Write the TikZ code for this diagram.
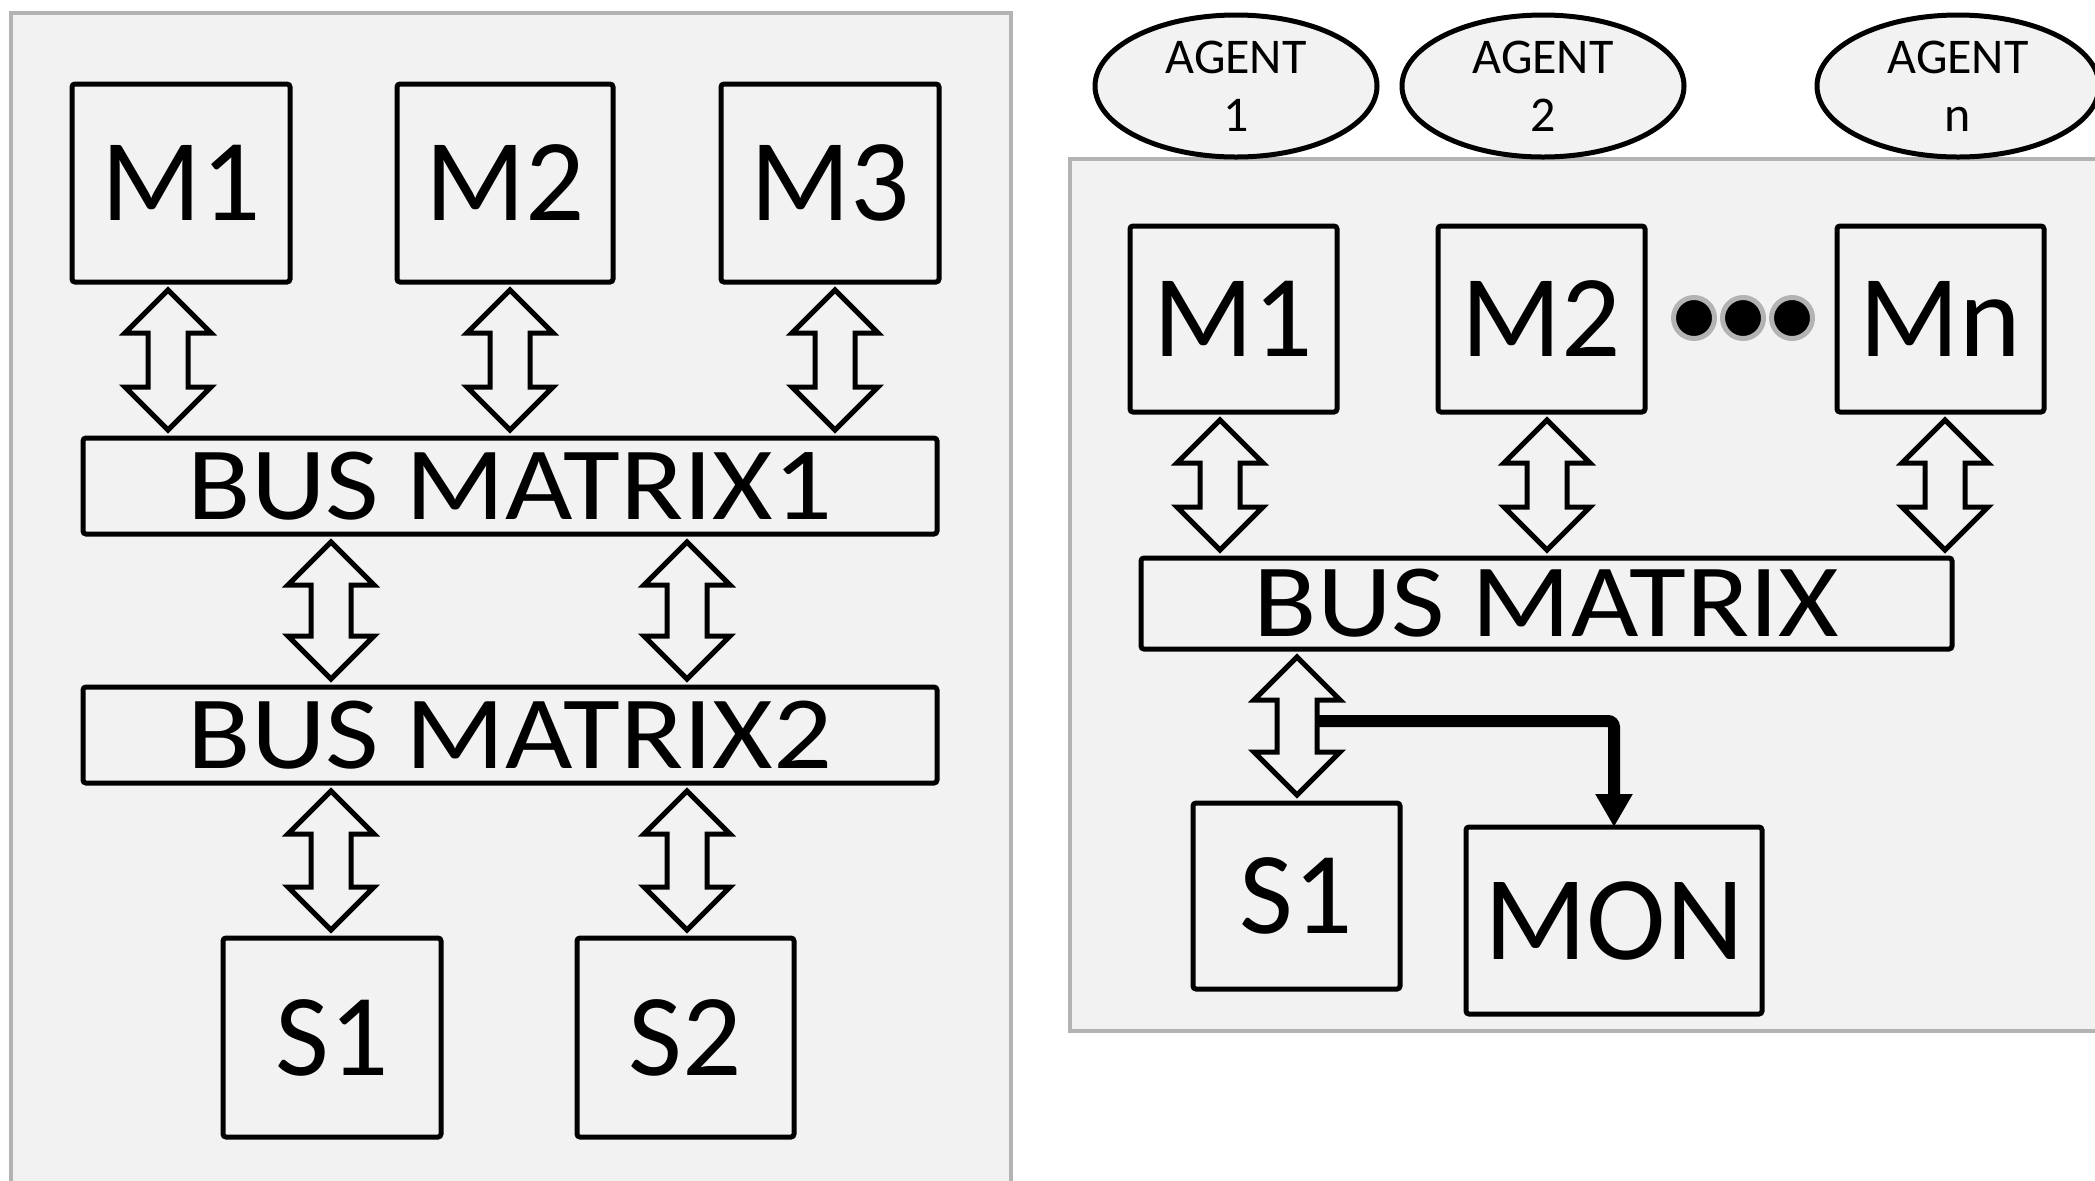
\documentclass[tikz,border=0pt]{standalone}
\usepackage{fontspec}
\setmainfont{Carlito}
\newfontfamily\widefont[FakeStretch=1.12]{Carlito}
\usetikzlibrary{arrows.meta,shapes.geometric}
\definecolor{panelfill}{HTML}{F2F2F2}
\definecolor{panelline}{HTML}{B3B3B3}
\tikzset{
  box/.style={draw=black, line width=2.5pt, fill=panelfill, inner sep=0pt, outer sep=0pt,
    rounded corners=1.5pt, font=\fontsize{58.5pt}{62pt}\selectfont},
  busbox/.style={box, font=\widefont\fontsize{52pt}{56pt}\selectfont},
  agent/.style={ellipse, draw=black, line width=2.5pt, fill=panelfill, inner sep=0pt,
    minimum width=141pt, minimum height=71pt, align=center,
    font=\fontsize{25pt}{29pt}\selectfont},
  dotnode/.style={circle, fill=black, draw=panelline, line width=2.5pt, inner sep=0pt, minimum size=20.5pt},
  barrow/.style={draw=black, line width=2.5pt, fill=panelfill, line join=miter},
  panelborder/.style={draw=panelline, line width=2pt},
  thickarrow/.style={line width=6pt, rounded corners=3pt, -{Triangle[length=16.5pt,width=17.5pt]}}
}
\newcommand\dblarrow[3]{%
  \coordinate (ax) at (#1,0);
  \path (#2 -| ax) coordinate (at0);
  \path (#3 -| ax) coordinate (ab0);
  \coordinate (at) at ([yshift=-4pt]at0);
  \coordinate (ab) at ([yshift=4pt]ab0);
  \draw[barrow] (at) -- ++(43,43) -- ++(-23,0) -- ([shift={(20,-43)}]ab) -- ++(23,0) -- (ab)
    -- ++(-43,-43) -- ++(23,0) -- ([shift={(-20,43)}]at) -- ++(-23,0) -- cycle;
}
\begin{document}
\begin{tikzpicture}[x=0.5pt,y=-0.5pt]
\useasboundingbox (0,0) rectangle (2095,1180);
\clip (0,0) rectangle (2095,1180);
\fill[white] (0,0) rectangle (2095,1180);
% panels
\fill[panelfill] (11,13) rectangle (1011,1200);
\draw[panelborder] (11,1200) -- (11,13) -- (1011,13) -- (1011,1200);
\fill[panelfill] (1070,159) rectangle (2120,1031);
\draw[panelborder] (2120,159) -- (1070,159) -- (1070,1031) -- (2120,1031);

% ---- left panel
\node[box, minimum width=109pt, minimum height=99pt] (lm1) at (181,183) {M1};
\node[box, minimum width=108pt, minimum height=99pt] (lm2) at (505,183) {M2};
\node[box, minimum width=109pt, minimum height=99pt] (lm3) at (830,183) {M3};
\node[busbox, minimum width=427pt, minimum height=48pt] (lbm1) at (510,486) {BUS MATRIX1};
\node[busbox, minimum width=427pt, minimum height=48pt] (lbm2) at (510,735) {BUS MATRIX2};
\node[box, minimum width=109pt, minimum height=99.5pt] (ls1) at (332,1037.5) {S1};
\node[box, minimum width=108.5pt, minimum height=99.5pt] (ls2) at (685.5,1037.5) {S2};

\dblarrow{168}{lm1.south}{lbm1.north}
\dblarrow{510}{lm2.south}{lbm1.north}
\dblarrow{835}{lm3.south}{lbm1.north}
\dblarrow{331}{lbm1.south}{lbm2.north}
\dblarrow{687}{lbm1.south}{lbm2.north}
\dblarrow{331}{lbm2.south}{ls1.north}
\dblarrow{687}{lbm2.south}{ls2.north}

% ---- right panel
\node[agent] (ag1) at (1236,86) {AGENT\\1};
\node[agent] (ag2) at (1543,86) {AGENT\\2};
\node[agent] (agn) at (1958,86) {AGENT\\n};

\node[box, minimum width=103.5pt, minimum height=93pt] (rm1) at (1233.5,319) {M1};
\node[box, minimum width=103.5pt, minimum height=93pt] (rm2) at (1541.5,319) {M2};
\node[box, minimum width=103.5pt, minimum height=93pt] (rmn) at (1940.5,319) {Mn};
\node[dotnode] (d1) at (1694,318) {};
\node[dotnode] (d2) at (1743,318) {};
\node[dotnode] (d3) at (1792,318) {};
\node[busbox, minimum width=405.5pt, minimum height=45.5pt] (rbm) at (1546.5,603.5) {BUS MATRIX};
\node[box, minimum width=103.5pt, minimum height=93pt] (rs1) at (1296.5,896) {S1};
\node[box, minimum width=148pt, minimum height=93.5pt, font=\fontsize{60pt}{64pt}\selectfont] (rmon) at (1614,920.5) {MON};

\dblarrow{1220}{rm1.south}{rbm.north}
\dblarrow{1547}{rm2.south}{rbm.north}
\dblarrow{1945}{rmn.south}{rbm.north}
\dblarrow{1297}{rbm.south}{rs1.north}

\coordinate (tap) at (1317,721);
\draw[thickarrow] (tap) -| (rmon.north);
\end{tikzpicture}
\end{document}
